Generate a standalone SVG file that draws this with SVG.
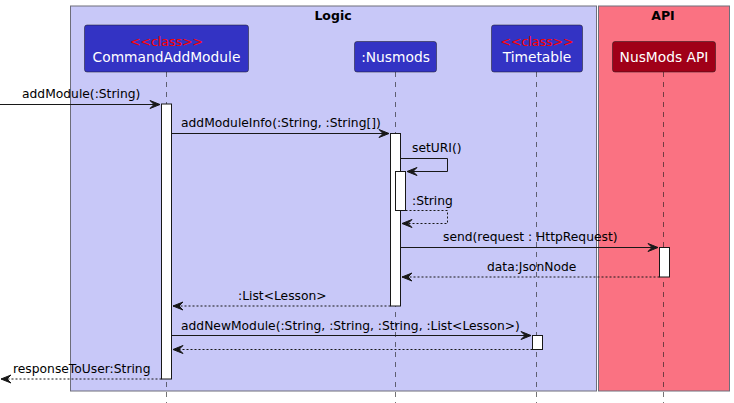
<svg xmlns="http://www.w3.org/2000/svg" width="734" height="403" viewBox="0 0 734 403">
<style>
.box{stroke:#6e6e7a;stroke-width:1}
.title{font-family:"DejaVu Sans",sans-serif;font-weight:bold;font-size:12.5px;fill:#000;text-anchor:middle}
.part{stroke:#181818;stroke-width:0.5}
.pname{font-family:"DejaVu Sans",sans-serif;font-size:13.8px;fill:#fff;text-anchor:middle}
.stereo{font-family:"DejaVu Sans",sans-serif;font-size:12.5px;fill:#ff0000;text-anchor:middle}
.life{stroke:#181818;stroke-width:0.6;stroke-dasharray:5,5;fill:none}
.act{fill:#fff;stroke:#181818;stroke-width:1}
.msg{stroke:#181818;stroke-width:1;fill:none}
.ret{stroke:#181818;stroke-width:1;fill:none;stroke-dasharray:2,2}
.lbl{font-family:"DejaVu Sans",sans-serif;font-size:12.3px;fill:#000}
</style>
<defs>
<marker id="ah" viewBox="-11 -5 12 10" refX="0" refY="0" markerWidth="12" markerHeight="10" orient="auto" markerUnits="userSpaceOnUse">
<path d="M0,0 L-10,-4 L-6,0 L-10,4 Z" fill="#181818" stroke="#181818" stroke-width="1"/>
</marker>
</defs>
<rect width="734" height="403" fill="#fff"/>
<g id="box-logic">
<rect class="box" x="70.5" y="6" width="526" height="385" fill="#C8C8F8"/>
<text class="title" x="333" y="20">Logic</text>
</g>
<g id="box-api">
<rect class="box" x="598.5" y="6" width="131" height="385" fill="#FA7282"/>
<text class="title" x="663" y="20">API</text>
</g>
<g id="lifelines">
<line class="life" x1="166.5" y1="72" x2="166.5" y2="403"/>
<line class="life" x1="395.5" y1="72" x2="395.5" y2="403"/>
<line class="life" x1="536.5" y1="72" x2="536.5" y2="403"/>
<line class="life" x1="663.5" y1="72" x2="663.5" y2="403"/>
</g>
<g id="p-commandaddmodule">
<rect class="part" x="84.5" y="25" width="164" height="47" rx="2.5" fill="#3333C4"/>
<text class="stereo" x="166.5" y="46">&lt;&lt;class&gt;&gt;</text>
<text class="pname" x="166.5" y="62">CommandAddModule</text>
</g>
<g id="p-nusmods">
<rect class="part" x="354.5" y="41.5" width="82" height="30.5" rx="2.5" fill="#3333C4"/>
<text class="pname" x="395.5" y="62">:Nusmods</text>
</g>
<g id="p-timetable">
<rect class="part" x="491.5" y="25" width="91" height="47" rx="2.5" fill="#3333C4"/>
<text class="stereo" x="537" y="46">&lt;&lt;class&gt;&gt;</text>
<text class="pname" x="537" y="62">Timetable</text>
</g>
<g id="p-nusmodsapi">
<rect class="part" x="612.5" y="41.5" width="103" height="30.5" rx="2.5" fill="#A00018"/>
<text class="pname" x="664" y="62">NusMods API</text>
</g>
<g id="activations">
<rect class="act" x="161.5" y="104" width="10" height="275"/>
<rect class="act" x="390.5" y="133.5" width="10" height="172.5"/>
<rect class="act" x="395.5" y="171.5" width="10" height="39"/>
<rect class="act" x="659.5" y="247.5" width="10" height="29.5"/>
<rect class="act" x="532.5" y="335.5" width="10" height="14"/>
</g>
<g id="connectors">
<line class="msg" x1="0" y1="104.5" x2="160" y2="104.5" marker-end="url(#ah)"/>
<text class="lbl" x="22" y="98">addModule(:String)</text>
<line class="msg" x1="171.5" y1="133.5" x2="389" y2="133.5" marker-end="url(#ah)"/>
<text class="lbl" x="181" y="127">addModuleInfo(:String, :String[])</text>
<polyline class="msg" points="400.5,158.5 447.5,158.5 447.5,171.5 407,171.5" marker-end="url(#ah)"/>
<text class="lbl" x="412" y="152">setURI()</text>
<polyline class="ret" points="405.5,210.5 447.5,210.5 447.5,223.5 402,223.5" marker-end="url(#ah)"/>
<text class="lbl" x="412" y="205">:String</text>
<line class="msg" x1="400.5" y1="247.5" x2="658" y2="247.5" marker-end="url(#ah)"/>
<text class="lbl" x="443" y="241">send(request : HttpRequest)</text>
<line class="ret" x1="659.5" y1="277" x2="402" y2="277" marker-end="url(#ah)"/>
<text class="lbl" x="487" y="271">data:JsonNode</text>
<line class="ret" x1="390.5" y1="306" x2="173" y2="306" marker-end="url(#ah)"/>
<text class="lbl" x="238" y="300">:List&lt;Lesson&gt;</text>
<line class="msg" x1="171.5" y1="335.5" x2="531" y2="335.5" marker-end="url(#ah)"/>
<text class="lbl" x="181" y="330">addNewModule(:String, :String, :String, :List&lt;Lesson&gt;)</text>
<line class="ret" x1="532.5" y1="349.5" x2="173" y2="349.5" marker-end="url(#ah)"/>
<line class="ret" x1="161.5" y1="379" x2="1" y2="379" marker-end="url(#ah)"/>
<text class="lbl" x="13" y="373">responseToUser:String</text>
</g>
</svg>
